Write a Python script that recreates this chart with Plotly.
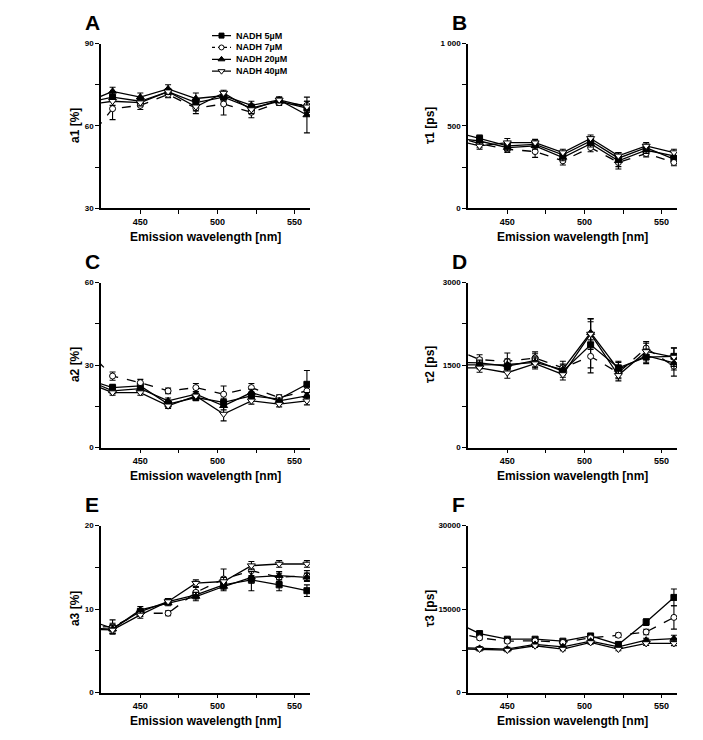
import plotly.graph_objects as go

# ---------------- data ----------------
wavelength = [414, 432, 450, 468, 486, 504, 522, 540, 558]
series_names = ["NADH 5µM", "NADH 7µM", "NADH 20µM", "NADH 40µM"]

# A: a1 [%]
a1_5 = [68.3, 70.5, 69.0, 72.5, 68.5, 70.5, 66.5, 69.0, 66.5]
a1_7 = [53.6, 66.3, 67.5, 71.5, 66.5, 68.0, 65.0, 68.5, 67.5]
a1_20 = [68.3, 72.6, 70.5, 73.5, 70.0, 71.0, 67.5, 69.5, 64.0]
a1_40 = [67.6, 69.0, 68.5, 72.5, 67.0, 72.0, 66.0, 69.5, 67.0]
a1_5_err = [1.0, 1.5, 1.2, 1.0, 1.5, 1.5, 1.5, 1.0, 1.5]
a1_7_err = [2.0, 4.0, 1.5, 1.2, 2.0, 4.0, 2.0, 1.0, 1.5]
a1_20_err = [1.5, 1.5, 1.5, 1.5, 2.0, 1.5, 1.5, 1.0, 6.5]
a1_40_err = [1.0, 1.5, 1.2, 1.0, 1.5, 1.0, 1.5, 1.0, 2.0]

# B: tau1 [ps]
t1_5 = [470, 425, 379, 389, 325, 409, 305, 369, 299]
t1_7 = [440, 393, 359, 345, 289, 369, 279, 333, 279]
t1_20 = [430, 409, 369, 380, 309, 393, 289, 353, 319]
t1_40 = [420, 379, 399, 399, 339, 425, 319, 379, 339]
t1_5_err = [20, 20, 25, 20, 20, 20, 25, 20, 20]
t1_7_err = [20, 25, 20, 35, 25, 25, 25, 20, 20]
t1_20_err = [20, 20, 20, 20, 20, 20, 50, 20, 20]
t1_40_err = [20, 20, 25, 20, 20, 20, 20, 20, 20]

# C: a2 [%]
a2_5 = [25.0, 21.8, 22.4, 15.8, 18.2, 16.4, 18.8, 17.6, 23.0]
a2_7 = [36.1, 26.0, 23.6, 20.6, 21.8, 19.4, 21.8, 18.2, 20.6]
a2_20 = [25.0, 20.6, 21.4, 17.0, 19.4, 15.2, 20.0, 17.0, 18.8]
a2_40 = [24.0, 20.0, 20.0, 15.2, 18.8, 12.2, 17.0, 15.8, 17.0]
a2_5_err = [1.0, 1.2, 1.0, 1.0, 1.2, 1.5, 1.2, 1.0, 5.0]
a2_7_err = [1.5, 1.5, 1.2, 1.0, 1.5, 3.0, 1.5, 1.0, 1.5]
a2_20_err = [1.0, 1.0, 1.0, 1.0, 1.0, 1.5, 1.2, 1.0, 1.2]
a2_40_err = [1.0, 1.0, 1.0, 1.0, 1.0, 2.5, 1.2, 1.0, 1.5]

# D: tau2 [ps]
t2_5 = [1550, 1539, 1478, 1586, 1388, 1868, 1449, 1646, 1658]
t2_7 = [1813, 1598, 1568, 1629, 1449, 1658, 1360, 1808, 1478]
t2_20 = [1500, 1509, 1509, 1550, 1419, 2089, 1419, 1670, 1539]
t2_40 = [1450, 1449, 1360, 1527, 1329, 2065, 1313, 1748, 1646]
t2_5_err = [80, 90, 100, 120, 110, 420, 100, 120, 150]
t2_7_err = [80, 90, 150, 110, 120, 300, 110, 120, 180]
t2_20_err = [80, 80, 100, 100, 100, 250, 150, 120, 130]
t2_40_err = [80, 80, 100, 100, 100, 280, 100, 150, 170]

# E: a3 [%]
a3_5 = [8.8, 7.7, 9.7, 10.9, 11.7, 12.9, 13.5, 12.9, 12.2]
a3_7 = [7.8, 7.9, 9.5, 9.5, 12.0, 13.6, 14.6, 13.8, 14.0]
a3_20 = [7.7, 7.6, 9.9, 10.7, 11.5, 12.7, 13.8, 14.0, 13.8]
a3_40 = [7.6, 7.5, 9.3, 10.9, 13.1, 13.3, 15.2, 15.4, 15.4]
a3_5_err = [0.4, 0.6, 0.4, 0.3, 0.5, 0.5, 1.3, 0.7, 0.7]
a3_7_err = [0.4, 0.8, 0.4, 0.3, 0.6, 1.2, 0.6, 0.5, 0.6]
a3_20_err = [0.4, 0.5, 0.4, 0.3, 0.5, 0.5, 0.7, 0.5, 0.5]
a3_40_err = [0.4, 0.5, 0.4, 0.3, 0.4, 0.5, 0.5, 0.4, 0.4]

# F: tau3 [ps]
t3_5 = [12978, 10597, 9585, 9585, 9230, 10170, 8645, 12660, 17093]
t3_7 = [10957, 9822, 9230, 9290, 9000, 9822, 10295, 10880, 13500]
t3_20 = [8100, 7934, 7810, 8645, 8220, 9230, 8220, 9408, 9700]
t3_40 = [7900, 7810, 7633, 8400, 7810, 9000, 7810, 8822, 8822]
t3_5_err = [400, 350, 300, 300, 300, 350, 400, 600, 1500]
t3_7_err = [400, 350, 300, 300, 300, 350, 400, 500, 2100]
t3_20_err = [400, 350, 300, 300, 300, 300, 300, 350, 600]
t3_40_err = [400, 350, 300, 300, 300, 300, 300, 350, 400]

x_tickvals = [450, 475, 500, 525, 550]
x_ticktext = ["450", "", "500", "", "550"]

# ---------------- styling ----------------
W, H = 703, 740
FONT = "Liberation Sans, Arial, Helvetica, sans-serif"


def px(x):
    return x / W


def py(y):
    return 1 - y / H


symbols = ["square", "circle", "triangle-up", "triangle-down"]
fills = ["black", "white", "black", "white"]
sizes = [6, 6, 7, 7]
dashes = ["solid", "dash", "solid", "solid"]

cols = [(101, 310), (468, 677)]
title_offsets = [26, 38]
rows = [(40, 207), (282, 449), (528, 697)]

panels = [
    ("A", "a1 [%]", [a1_5, a1_7, a1_20, a1_40], [a1_5_err, a1_7_err, a1_20_err, a1_40_err],
     [30, 90], [30, 45, 60, 75, 90], ["30", "", "60", "", "90"]),
    ("B", "τ1 [ps]", [t1_5, t1_7, t1_20, t1_40], [t1_5_err, t1_7_err, t1_20_err, t1_40_err],
     [0, 1000], [0, 250, 500, 750, 1000], ["0", "", "500", "", "1 000"]),
    ("C", "a2 [%]", [a2_5, a2_7, a2_20, a2_40], [a2_5_err, a2_7_err, a2_20_err, a2_40_err],
     [0, 60], [0, 15, 30, 45, 60], ["0", "", "30", "", "60"]),
    ("D", "τ2 [ps]", [t2_5, t2_7, t2_20, t2_40], [t2_5_err, t2_7_err, t2_20_err, t2_40_err],
     [0, 3000], [0, 750, 1500, 2250, 3000], ["0", "", "1500", "", "3000"]),
    ("E", "a3 [%]", [a3_5, a3_7, a3_20, a3_40], [a3_5_err, a3_7_err, a3_20_err, a3_40_err],
     [0, 20], [0, 5, 10, 15, 20], ["0", "", "10", "", "20"]),
    ("F", "τ3 [ps]", [t3_5, t3_7, t3_20, t3_40], [t3_5_err, t3_7_err, t3_20_err, t3_40_err],
     [0, 30000], [0, 7500, 15000, 22500, 30000], ["0", "", "15000", "", "30000"]),
]

fig = go.Figure()
layout = dict(
    width=W, height=H, margin=dict(l=0, r=0, t=0, b=0),
    paper_bgcolor="white", plot_bgcolor="white",
    font=dict(family=FONT, color="black"),
    showlegend=False,
)
annotations = []

for i, (letter, ytitle, data, errs, yrange, ytv, ytt) in enumerate(panels):
    r, c = divmod(i, 2)
    x0, x1 = cols[c]
    y0, y1 = rows[r]
    n = "" if i == 0 else str(i + 1)
    for s in range(4):
        fig.add_trace(go.Scatter(
            x=wavelength, y=data[s], name=series_names[s],
            mode="lines+markers",
            line=dict(color="black", width=1.3, dash=dashes[s]),
            marker=dict(symbol=symbols[s], size=sizes[s], color=fills[s],
                        line=dict(color="black", width=1)),
            error_y=dict(type="data", array=errs[s], color="black",
                         thickness=1.1, width=3),
            xaxis="x" + n, yaxis="y" + n, showlegend=False,
        ))
    layout["xaxis" + n] = dict(
        domain=[px(x0), px(x1)], range=[424.5, 560], anchor="y" + n,
        tickmode="array", tickvals=x_tickvals, ticktext=x_ticktext,
        ticks="outside", ticklen=4, tickwidth=1.2, tickcolor="black",
        showline=True, linecolor="black", linewidth=1.5,
        showgrid=False, zeroline=False,
        tickfont=dict(family=FONT, size=9, color="black", weight="bold"),
    )
    layout["yaxis" + n] = dict(
        domain=[py(y1), py(y0)], range=yrange, anchor="x" + n,
        tickmode="array", tickvals=ytv, ticktext=ytt,
        ticks="outside", ticklen=4, tickwidth=1.2, tickcolor="black",
        showline=True, linecolor="black", linewidth=1.5,
        showgrid=False, zeroline=False,
        tickfont=dict(family=FONT, size=8, color="black", weight="bold"),
    )
    # panel letter
    annotations.append(dict(
        text="<b>%s</b>" % letter, x=px(x0 - 18), y=py(y0 - 21),
        xref="paper", yref="paper", xanchor="left", yanchor="middle",
        showarrow=False, font=dict(family=FONT, size=21, color="black"),
    ))
    # y title
    annotations.append(dict(
        text="<b>%s</b>" % ytitle, x=px(x0 - title_offsets[c]), y=py((y0 + y1) / 2),
        xref="paper", yref="paper", xanchor="center", yanchor="middle",
        textangle=-90, showarrow=False,
        font=dict(family=FONT, size=12, color="black"),
    ))
    # x title
    annotations.append(dict(
        text="<b>Emission wavelength [nm]</b>", x=px((x0 + x1) / 2), y=py(y1 + 29),
        xref="paper", yref="paper", xanchor="center", yanchor="middle",
        showarrow=False, font=dict(family=FONT, size=12, color="black"),
    ))

# ---------------- custom legend (inside panel A) ----------------
leg_rows = [32, 44, 56, 68]
for s in range(4):
    fig.add_trace(go.Scatter(
        x=[212, 231], y=[leg_rows[s]] * 2, mode="lines",
        line=dict(color="black", width=1.3, dash="dot" if dashes[s] == "dash" else "solid"),
        xaxis="x7", yaxis="y7", showlegend=False, hoverinfo="skip",
    ))
    fig.add_trace(go.Scatter(
        x=[221.5], y=[leg_rows[s]], mode="markers",
        marker=dict(symbol=symbols[s], size=sizes[s] - 1, color=fills[s],
                    line=dict(color="black", width=1)),
        xaxis="x7", yaxis="y7", showlegend=False, hoverinfo="skip",
    ))
    annotations.append(dict(
        text="<b>%s</b>" % series_names[s], x=px(234), y=py(leg_rows[s]),
        xref="paper", yref="paper", xanchor="left", yanchor="middle",
        showarrow=False, font=dict(family=FONT, size=9, color="black"),
    ))

layout["xaxis7"] = dict(domain=[px(205), px(235)], range=[205, 235], visible=False,
                        anchor="y7", fixedrange=True)
layout["yaxis7"] = dict(domain=[py(76), py(26)], range=[76, 26], visible=False,
                        anchor="x7", fixedrange=True)
layout["annotations"] = annotations

fig.update_layout(**layout)
fig.write_html("out.html")
